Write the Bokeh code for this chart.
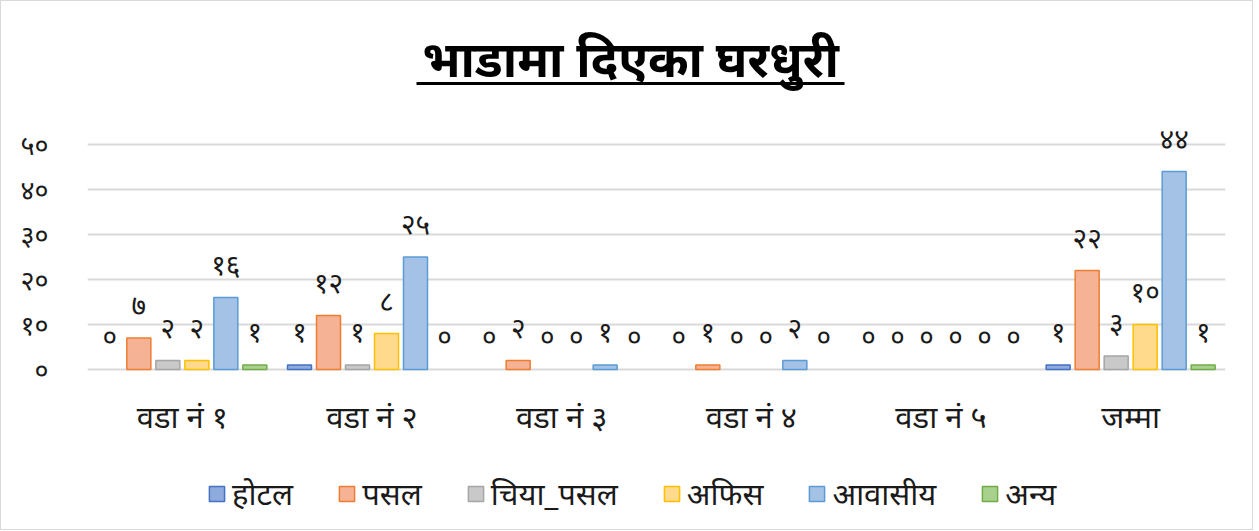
from bokeh.plotting import figure
from bokeh.models import (FactorRange, FixedTicker, Legend, LegendItem,
                          ColumnDataSource)
from bokeh.transform import dodge
from bokeh.core.properties import value
from bokeh.embed import file_html
from bokeh.resources import INLINE

title_text = "भाडामा दिएका घरधुरी"
categories = ["वडा नं १", "वडा नं २", "वडा नं ३", "वडा नं ४", "वडा नं ५", "जम्मा"]
series_names = ["होटल", "पसल", "चिया_पसल", "अफिस", "आवासीय", "अन्य"]
hotel = [0, 1, 0, 0, 0, 1]
pasal = [7, 12, 2, 1, 0, 22]
chiya_pasal = [2, 1, 0, 0, 0, 3]
office = [2, 8, 0, 0, 0, 10]
residential = [16, 25, 1, 2, 0, 44]
other = [1, 0, 0, 0, 0, 1]
y_ticks = [0, 10, 20, 30, 40, 50]
dev_digits = ["०", "१", "२", "३", "४", "५", "६", "७", "८", "९"]

series_values = [hotel, pasal, chiya_pasal, office, residential, other]
fills = ["#8faadc", "#f5b294", "#c9c9c9", "#ffd98c", "#a3c2e6", "#a9d18e"]
borders = ["#4472c4", "#ed7d31", "#a5a5a5", "#ffc000", "#5b9bd5", "#70ad47"]


def to_dev(n):
    return "".join(dev_digits[int(c)] for c in str(n))


FONT = "Noto Sans"
W, H = 1253, 530
PX_PER_UNIT = 4.5          # vertical scale (pixels per value unit)
ZERO_ROW = 368             # pixel row of the zero line
FRAME_LEFT, FRAME_RIGHT = 86, 1224
GROUP_PX = (FRAME_RIGHT - FRAME_LEFT) / len(categories)

p = figure(x_range=FactorRange(*categories),
           y_range=(-(H - ZERO_ROW) / PX_PER_UNIT, ZERO_ROW / PX_PER_UNIT),
           width=W, height=H, output_backend="svg", toolbar_location=None,
           min_border_left=FRAME_LEFT, min_border_right=W - FRAME_RIGHT,
           min_border_top=0, min_border_bottom=0)
p.outline_line_color = None
p.background_fill_color = "white"
p.border_fill_color = "white"
p.xaxis.visible = False

step = 29 / GROUP_PX
bw = 24 / GROUP_PX
items = []
for i, (name, vals) in enumerate(zip(series_names, series_values)):
    off = (i - 2.5) * step
    nz = [(c, v) for c, v in zip(categories, vals) if v > 0]
    bar_src = ColumnDataSource(dict(cat=[c for c, _ in nz], v=[v for _, v in nz]))
    r = p.vbar(x=dodge("cat", off, range=p.x_range), top="v", width=bw, source=bar_src,
               fill_color=fills[i], line_color=borders[i], line_width=1.5)
    lab_src = ColumnDataSource(dict(cat=categories, v=vals, lab=[to_dev(v) for v in vals]))
    p.text(x=dodge("cat", off, range=p.x_range), y="v", text="lab", source=lab_src,
           y_offset=-34, text_align="center", text_baseline="middle",
           text_font=value(FONT), text_font_size="28px", text_color="#1a1a1a")
    items.append(LegendItem(label=name, renderers=[r]))

# category labels under the zero line
p.text(x=categories, y=[0] * len(categories), text=categories, y_offset=46,
       text_align="center", text_baseline="middle", text_font=value(FONT),
       text_font_size="31px", text_color="#1a1a1a")

# title and its underline
n_cat = len(categories)
p.text(x=[n_cat / 2], y=[(ZERO_ROW - 56) / PX_PER_UNIT], text=[title_text],
       x_offset=-26, text_align="center", text_baseline="middle",
       text_font=value(FONT), text_font_size="49px", text_font_style="bold",
       text_color="black")
ux0 = (415 - FRAME_LEFT) / GROUP_PX
ux1 = (843 - FRAME_LEFT) / GROUP_PX
uy = (ZERO_ROW - 82) / PX_PER_UNIT
p.segment(x0=[ux0], y0=[uy], x1=[ux1], y1=[uy], line_color="black", line_width=3)

p.yaxis.ticker = FixedTicker(ticks=y_ticks)
p.yaxis.major_label_overrides = {t: to_dev(t) for t in y_ticks}
p.yaxis.axis_line_color = None
p.yaxis.major_tick_line_color = None
p.yaxis.minor_tick_line_color = None
p.yaxis.major_label_standoff = 33
p.yaxis.major_label_text_font = FONT
p.yaxis.major_label_text_font_size = "27px"
p.yaxis.major_label_text_color = "#1a1a1a"

p.xgrid.grid_line_color = None
p.ygrid.grid_line_color = "#d9d9d9"
p.ygrid.grid_line_width = 2
p.ygrid.ticker = FixedTicker(ticks=y_ticks)

legend = Legend(items=items, orientation="horizontal", location=(120, 17),
                label_text_font=FONT, label_text_font_size="31px",
                label_text_color="#1a1a1a", glyph_width=19, glyph_height=19,
                spacing=44, label_standoff=6, padding=2, margin=0,
                border_line_color=None, background_fill_alpha=0)
p.add_layout(legend, "center")

p.styles = {"border": "1px solid #d9d9d9"}

open("out.html", "w").write(file_html(p, INLINE))
